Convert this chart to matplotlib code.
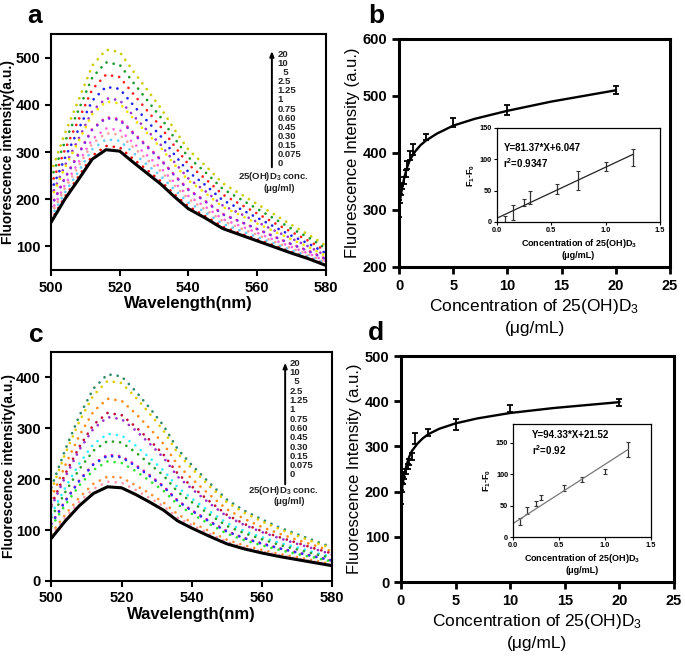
import matplotlib
matplotlib.use('Agg')
import matplotlib.pyplot as plt

plt.rcParams['font.family'] = ['Liberation Sans', 'DejaVu Sans']
plt.rcParams['mathtext.fontset'] = 'custom'
plt.rcParams['mathtext.rm'] = 'Liberation Sans'
plt.rcParams['mathtext.bf'] = 'Liberation Sans:bold'
plt.rcParams['mathtext.it'] = 'Liberation Sans:italic'

# ---- spectra (panels a, c) ----
wl = [500, 504, 508, 512, 516, 520, 524, 528, 532, 536, 540, 545, 550, 555, 560, 565, 570, 575, 580]
conc_labels = ["20", "10", "  5", "2.5", "1.25", "1", "0.75", "0.60", "0.45", "0.30", "0.15", "0.075", "0"]

spec_a = [
    [256, 339, 410, 483, 517, 512, 471, 432, 393, 347, 305, 271, 234, 212, 190, 168, 146, 125, 102],
    [243, 321, 389, 458, 490, 485, 447, 410, 373, 329, 289, 257, 222, 201, 180, 159, 138, 119, 96],
    [230, 304, 368, 433, 464, 459, 423, 388, 353, 312, 274, 243, 210, 190, 170, 150, 131, 112, 91],
    [217, 287, 348, 409, 438, 434, 399, 366, 333, 294, 258, 230, 198, 180, 161, 142, 123, 106, 86],
    [205, 271, 328, 387, 414, 410, 377, 346, 315, 278, 244, 217, 187, 170, 152, 134, 117, 100, 81],
    [201, 267, 323, 380, 407, 403, 371, 340, 309, 273, 240, 213, 184, 167, 149, 132, 115, 99, 80],
    [185, 245, 297, 349, 374, 370, 341, 313, 284, 251, 221, 196, 169, 153, 137, 121, 105, 91, 74],
    [184, 244, 295, 348, 372, 368, 339, 311, 283, 250, 220, 195, 168, 153, 137, 121, 105, 90, 73],
    [173, 230, 278, 327, 350, 347, 319, 293, 266, 235, 207, 184, 158, 144, 129, 114, 99, 85, 69],
    [168, 223, 270, 318, 340, 337, 310, 284, 259, 229, 201, 178, 154, 139, 125, 110, 96, 83, 67],
    [162, 214, 259, 306, 327, 324, 298, 273, 249, 220, 193, 172, 148, 134, 120, 106, 92, 79, 64],
    [155, 205, 248, 292, 313, 310, 285, 262, 238, 210, 185, 164, 142, 128, 115, 102, 88, 76, 62],
]
blank_a = [151, 200, 242, 285, 305, 302, 278, 255, 232, 205, 180, 160, 138, 125, 112, 99, 86, 74, 60]
colors_a = ['#cccc00', '#1f9a2a', '#ff2020', '#2222ee', '#9933cc', '#f2e600',
            '#ff3399', '#8a2be2', '#ff66dd', '#ffa0a0', '#66ccff', '#ee1111']

spec_c = [
    [184, 259, 325, 378, 406, 402, 373, 340, 305, 259, 228, 193, 160, 138, 121, 105, 92, 79, 66],
    [178, 251, 314, 365, 393, 389, 361, 329, 295, 251, 221, 187, 155, 134, 117, 102, 89, 76, 64],
    [163, 228, 286, 333, 358, 354, 329, 300, 269, 228, 201, 170, 141, 122, 106, 93, 81, 70, 58],
    [150, 211, 264, 307, 330, 326, 303, 277, 248, 211, 186, 157, 130, 112, 98, 86, 75, 64, 54],
    [146, 205, 258, 299, 322, 318, 296, 270, 242, 205, 181, 153, 127, 110, 96, 84, 73, 63, 52],
    [131, 184, 231, 269, 289, 286, 266, 242, 217, 184, 162, 137, 114, 98, 86, 75, 66, 56, 47],
    [125, 175, 220, 256, 275, 272, 253, 230, 207, 175, 155, 131, 108, 94, 82, 71, 62, 53, 45],
    [113, 158, 198, 230, 248, 245, 228, 208, 186, 158, 139, 118, 98, 84, 74, 64, 56, 48, 40],
    [112, 157, 197, 229, 246, 243, 226, 206, 185, 157, 138, 117, 97, 84, 73, 64, 56, 48, 40],
    [107, 150, 188, 218, 235, 232, 216, 197, 177, 150, 132, 112, 93, 80, 70, 61, 53, 46, 38],
    [93, 131, 164, 191, 205, 203, 188, 172, 154, 131, 115, 98, 81, 70, 61, 53, 47, 40, 33],
    [89, 124, 156, 181, 195, 193, 179, 163, 147, 124, 110, 93, 77, 66, 58, 51, 44, 38, 32],
]
blank_c = [84, 118, 148, 172, 185, 183, 170, 155, 139, 118, 104, 88, 73, 63, 55, 48, 42, 36, 30]
colors_c = ['#2e8b6a', '#e0cc00', '#ff8c1a', '#c0103a', '#9932cc', '#33f0ff',
            '#2ca02c', '#ff1493', '#2f2fff', '#33e633', '#ff8f3a', '#ff99aa']

# ---- titration (panels b, d) ----
conc = [0, 0.075, 0.15, 0.3, 0.45, 0.6, 0.75, 1, 1.25, 2.5, 5, 10, 20]
int_b = [302, 320, 334, 342, 352, 364, 379, 396, 406, 428, 453, 476, 510]
err_b = [15, 8, 8, 6, 6, 6, 7, 8, 10, 6, 8, 9, 7]
int_d = [188, 210, 225, 236, 244, 255, 266, 277, 317, 330, 349, 384, 397]
err_d = [15, 10, 8, 7, 6, 6, 6, 8, 12, 8, 12, 8, 7]

fit_x = [0, 0.1, 0.25, 0.5, 0.75, 1, 1.5, 2, 2.5, 3.5, 5, 7, 10, 14, 20]
fit_b = [300, 318, 335, 358, 375, 388, 403, 414, 422, 434, 448, 460, 474, 490, 510]
fit_d = [185, 208, 232, 258, 277, 290, 306, 318, 327, 339, 351, 362, 374, 385, 398]

# ---- linear range insets ----
lin_x = [0.075, 0.15, 0.25, 0.3, 0.55, 0.75, 1.0, 1.25]
lin_b = [5, 15, 31, 39, 53, 66, 88, 103]
lin_b_err = [5, 12, 5, 11, 8, 15, 7, 13]
lin_d = [25, 42, 54, 63, 78, 92, 105, 140]
lin_d_err = [6, 6, 4, 3.5, 5, 4, 4, 12]
slope_b, icpt_b = 81.37, 6.047
slope_d, icpt_d = 94.33, 21.52

fig = plt.figure(figsize=(6.85, 6.62), dpi=100)


def spectra_panel(rect, curves, blank, colors, ylim, yticks, letter, lpos, leg):
    ax = fig.add_axes(rect)
    for ys, c in zip(curves, colors):
        ax.plot(wl, ys, color=c, lw=2.0, linestyle=(0, (0.01, 2.6)),
                dash_capstyle='round')
    ax.plot(wl, blank, color='black', lw=2.2)
    ax.set_xlim(500, 580)
    ax.set_ylim(*ylim)
    ax.set_xticks([500, 520, 540, 560, 580])
    ax.set_yticks(yticks)
    for s in ax.spines.values():
        s.set_linewidth(1.5)
    ax.tick_params(direction='out', length=4, width=1.5, labelsize=10.5)
    for t in ax.get_xticklabels() + ax.get_yticklabels():
        t.set_fontweight('bold')
    ax.set_xlabel('Wavelength(nm)', fontsize=12, fontweight='bold', labelpad=1)
    ax.set_ylabel('Fluorescence intensity(a.u.)', fontsize=10, fontweight='bold', labelpad=0.5)
    ax.text(lpos[0], lpos[1], letter, transform=ax.transAxes, fontsize=19,
            fontweight='bold', va='center', ha='center')
    # concentration arrow and labels
    ax_x, ay0, ay1, lx, ly0, ly1, tx, ty = leg
    ax.annotate('', xy=(ax_x, ay1), xytext=(ax_x, ay0), xycoords='axes fraction',
                arrowprops=dict(arrowstyle='-|>,head_length=0.3,head_width=0.12',
                                color='black', lw=1.4))
    n = len(conc_labels)
    for i, lab in enumerate(conc_labels):
        y = ly0 + (ly1 - ly0) * i / (n - 1)
        ax.text(lx, y, lab, transform=ax.transAxes, fontsize=6.8, fontweight='bold',
                va='center', ha='left', color='#222222')
    ax.text(tx, ty, r'25(OH)D$_\mathbf{3}$ conc.', transform=ax.transAxes,
            fontsize=6.8, fontweight='bold', ha='center', va='center', color='#222222')
    ax.text(tx + 0.02, ty - 0.05, '(μg/ml)', transform=ax.transAxes,
            fontsize=6.8, fontweight='bold', ha='center', va='center', color='#222222')
    return ax


def titration_panel(rect, y, e, fit, ylim, yticks, letter, lpos):
    ax = fig.add_axes(rect)
    ax.errorbar(conc, y, yerr=e, fmt='none', ecolor='black', elinewidth=1.3,
                capsize=2, capthick=1.3)
    ax.plot(fit_x, fit, color='black', lw=1.7)
    ax.set_xlim(0, 25)
    ax.set_ylim(*ylim)
    ax.set_xticks([0, 5, 10, 15, 20, 25])
    ax.set_yticks(yticks)
    for s in ax.spines.values():
        s.set_linewidth(2.2)
    ax.tick_params(direction='out', length=5, width=2, labelsize=10.5)
    for t in ax.get_xticklabels() + ax.get_yticklabels():
        t.set_fontweight('bold')
    ax.set_xlabel('Concentration of 25(OH)D$_3$\n(μg/mL)', fontsize=12.5,
                  linespacing=1.45, labelpad=3)
    ax.set_ylabel('Fluorescence Intensity (a.u.)', fontsize=12, labelpad=2)
    ax.text(lpos[0], lpos[1], letter, transform=ax.transAxes, fontsize=19,
            fontweight='bold', va='center', ha='center')
    return ax


def inset(rect, y, e, slope, icpt, ylim, lcolor, eq, r2, tpos):
    ax = fig.add_axes(rect)
    ax.errorbar(lin_x, y, yerr=e, fmt='none', ecolor='#333333', elinewidth=0.9,
                capsize=1.2, capthick=0.8)
    ax.plot([0, 1.25], [icpt, slope * 1.25 + icpt], color=lcolor, lw=0.9)
    ax.set_xlim(0, 1.5)
    ax.set_ylim(*ylim)
    ax.set_xticks([0, 0.5, 1.0, 1.5])
    ax.set_xticklabels(['0.0', '0.5', '1.0', '1.5'])
    ax.set_yticks([0, 50, 100, 150])
    for s in ax.spines.values():
        s.set_linewidth(0.9)
    ax.tick_params(direction='out', length=2, width=0.8, labelsize=5.3, pad=1.5)
    for t in ax.get_xticklabels() + ax.get_yticklabels():
        t.set_fontweight('bold')
    ax.set_xlabel(r'Concentration of 25(OH)D$_\mathbf{3}$' + '\n(μg/mL)', fontsize=6.5,
                  fontweight='bold', labelpad=2)
    ax.set_ylabel(r'F$_\mathbf{1}$-F$_\mathbf{0}$', fontsize=6.5, fontweight='bold', labelpad=2)
    ax.text(tpos[0], tpos[1], eq, transform=ax.transAxes, fontsize=7,
            fontweight='bold', va='center')
    ax.text(tpos[0], tpos[2], r2, transform=ax.transAxes, fontsize=7,
            fontweight='bold', va='center')
    return ax


spectra_panel([0.0745, 0.592, 0.401, 0.3565], spec_a, blank_a, colors_a, (50, 550),
              [100, 200, 300, 400, 500], 'a', (-0.06, 1.075),
              (0.804, 0.424, 0.94, 0.825, 0.915, 0.45, 0.81, 0.395))
spectra_panel([0.075, 0.1224, 0.4097, 0.346], spec_c, blank_c, colors_c, (0, 450),
              [0, 100, 200, 300, 400], 'c', (-0.053, 1.075),
              (0.833, 0.41, 0.965, 0.848, 0.95, 0.463, 0.826, 0.397))

titration_panel([0.5825, 0.5967, 0.3956, 0.3444], int_b, err_b, fit_b, (200, 600),
                [200, 300, 400, 500, 600], 'b', (-0.085, 1.1))
titration_panel([0.5854, 0.1208, 0.3985, 0.3414], int_d, err_d, fit_d, (0, 500),
                [0, 100, 200, 300, 400, 500], 'd', (-0.09, 1.1))

inset([0.7255, 0.6647, 0.238, 0.142], lin_b, lin_b_err, slope_b, icpt_b, (0, 150),
      '#222222', 'Y=81.37*X+6.047', r'r$^\mathbf{2}$=0.9347', (0.04, 0.79, 0.63))
inset([0.749, 0.1888, 0.2015, 0.1707], lin_d, lin_d_err, slope_d, icpt_d, (0, 180),
      '#777777', 'Y=94.33*X+21.52', r'r$^\mathbf{2}$=0.92', (0.14, 0.9, 0.77))

fig.savefig('out.png', dpi=100)
